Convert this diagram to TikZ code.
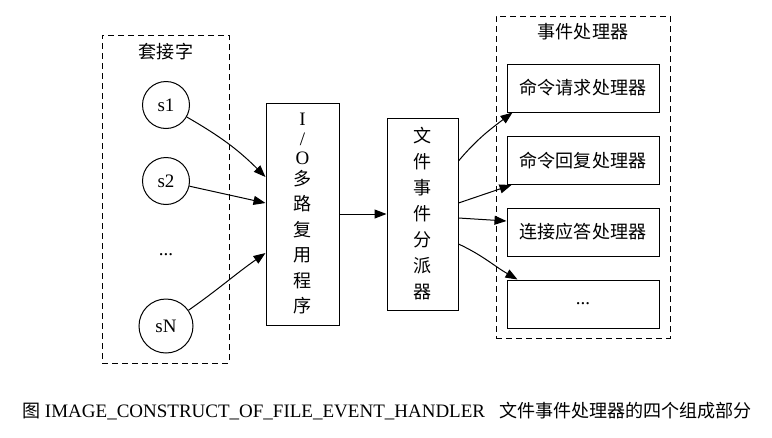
\documentclass[tikz,border=0pt]{standalone}
\usepackage{fontspec}
\setmainfont{Liberation Serif}
\newfontfamily\cjk[Scale=0.95]{Noto Sans CJK SC}
\usetikzlibrary{arrows.meta,calc}
\begin{document}
\begin{tikzpicture}[x=1pt,y=1pt,
  every node/.style={font=\fontsize{19}{23}\selectfont},
  cluster/.style={draw, dash pattern=on 6pt off 4pt, line width=1pt, inner sep=0pt},
  sock/.style={circle, draw, line width=1pt, minimum size=47pt, inner sep=0pt},
  box/.style={draw, line width=1pt, inner sep=0pt},
  arr/.style={-{Triangle[length=12pt,width=9pt]}, line width=1pt}]
\useasboundingbox (0,0) rectangle (772,-437);
% sockets cluster
\node[cluster, minimum width=127pt, minimum height=328pt] (sockets) at (165.5,-199) {};
\node (socklabel) at (166,-52) {\cjk 套接字};
\node[sock] (s1) at (166,-105) {s1};
\node[sock] (s2) at (166,-181) {s2};
\node (dots) at (166,-255) {...};
\node[sock, minimum size=54pt] (sN) at (166,-326) {sN};
% multiplexer
\node[box, minimum width=73pt, minimum height=222pt, align=center,
  font=\fontsize{19}{25.5}\selectfont] (io) at (302.5,-214)
  {I\\[-6pt]/\\[-6pt]O\\[-5pt]{\cjk 多}\\{\cjk 路}\\{\cjk 复}\\{\cjk 用}\\{\cjk 程}\\{\cjk 序}};
% dispatcher
\node[box, minimum width=71pt, minimum height=192pt, align=center,
  font=\fontsize{19}{26}\selectfont] (disp) at (422.5,-214)
  {{\cjk 文}\\{\cjk 件}\\{\cjk 事}\\{\cjk 件}\\{\cjk 分}\\{\cjk 派}\\{\cjk 器}};
% handlers cluster
\node[cluster, minimum width=174pt, minimum height=322pt] (handlers) at (583,-177) {};
\node (handlabel) at (583,-32) {\cjk 事件处理器};
\node[box, minimum width=152pt, minimum height=48pt] (h1) at (583,-88) {\cjk 命令请求处理器};
\node[box, minimum width=152pt, minimum height=48pt] (h2) at (583,-160.5) {\cjk 命令回复处理器};
\node[box, minimum width=152pt, minimum height=48pt] (h3) at (583,-232) {\cjk 连接应答处理器};
\node[box, minimum width=152pt, minimum height=48pt] (h4) at (583,-304) {...};
% connectors
\draw[arr] (s1) to[out=-30,in=135] ($(io.west)+(0,37)$);
\draw[arr] (s2) -- ($(io.west)+(0,11)$);
\draw[arr] (sN) to[out=35,in=-145] ($(io.west)+(0,-39)$);
\draw[arr] (io) -- (disp);
\draw[arr] ($(disp.east)+(0,53)$) to[out=50,in=-143] ($(h1.south west)+(6,0)$);
\draw[arr] ($(disp.east)+(0,11)$) -- ($(h2.south west)+(5,0)$);
\draw[arr] ($(disp.east)+(0,-4)$) -- ($(h3.west)+(0,11)$);
\draw[arr] ($(disp.east)+(0,-30)$) to[out=-25,in=150] ($(h4.north west)+(11,0)$);
% caption
\node[anchor=west, inner sep=0pt] (caption) at (22,-411)
  {{\cjk 图} IMAGE\_CONSTRUCT\_OF\_FILE\_EVENT\_HANDLER\hspace{14pt}{\cjk 文件事件处理器的四个组成部分}};
\end{tikzpicture}
\end{document}
